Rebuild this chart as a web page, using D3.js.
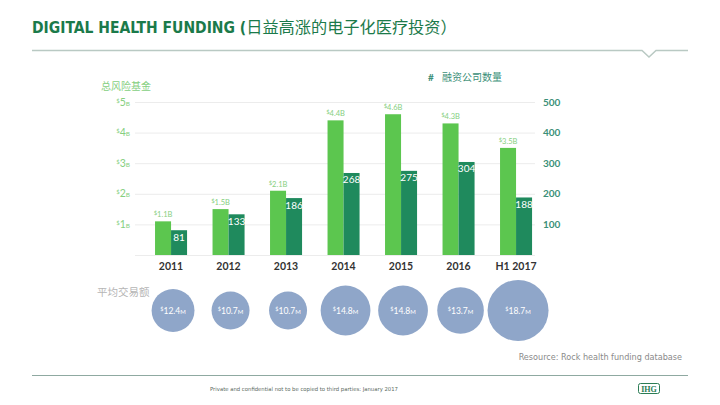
<!DOCTYPE html>
<html><head><meta charset="utf-8">
<script src="https://cdn.jsdelivr.net/npm/d3@7"></script>
<style>body{margin:0;background:#fff}svg{display:block}</style>
</head><body>
<script>
const years = ["2011","2012","2013","2014","2015","2016","H1 2017"];
const funding = [1.1, 1.5, 2.1, 4.4, 4.6, 4.3, 3.5];          // $B
const fundingLabels = ["1.1","1.5","2.1","4.4","4.6","4.3","3.5"];
const companies = [81, 133, 186, 268, 275, 304, 188];
const avgDeal = [12.4, 10.7, 10.7, 14.8, 14.8, 13.7, 18.7];    // $M
const leftTicks = [1, 2, 3, 4, 5];
const rightTicks = [100, 200, 300, 400, 500];

const W = 720, H = 405;
const svg = d3.select("body").append("svg").attr("width", W).attr("height", H);

const cLight = "#5cc64f", cDark = "#1f8a5d", cLightTxt = "#86cf7f", cTeal = "#3b8f78";
const cjk = "'Noto Sans CJK SC', sans-serif";
const cond = "'DejaVu Sans Condensed', 'DejaVu Sans', sans-serif";

// Title
const title = svg.append("text").attr("x", 32).attr("y", 33).attr("fill", "#1b7a4a");
title.append("tspan").attr("font-family", cond).attr("font-weight", "bold").attr("font-size", 15.5).text("DIGITAL HEALTH FUNDING (");
title.append("tspan").attr("font-family", cjk).attr("font-size", 16.2).text("日益高涨的电子化医疗投资）");

// Top rule with notch
svg.append("path").attr("d", "M32,50.5 L642,50.5 L649,57 L656,50.5 L688,50.5")
  .attr("fill", "none").attr("stroke", "#b9c9c3").attr("stroke-width", 1.5);

// Scales
const x0 = d3.scaleBand().domain(years).range([142.3, 544.8]).paddingInner(0.443).paddingOuter(0.2215);
const x1 = d3.scaleBand().domain(["f", "c"]).range([0, x0.bandwidth()]);
const yL = d3.scaleLinear().domain([0, 5]).range([255, 102]);
const yR = d3.scaleLinear().domain([0, 500]).range([255, 102]);
const rS = d3.scaleLinear().domain([10.7, 18.7]).range([19, 30.5]);

// Gridlines
svg.append("g").selectAll("line").data([0].concat(leftTicks)).join("line")
  .attr("x1", 135).attr("x2", 535).attr("y1", d => yL(d) + 0.5).attr("y2", d => yL(d) + 0.5)
  .attr("stroke", "#ececec").attr("stroke-width", 1);

// Left axis labels ($xB)
const lt = svg.append("g").selectAll("text").data(leftTicks).join("text")
  .attr("x", 130).attr("y", d => yL(d) + 3.5).attr("text-anchor", "end")
  .attr("fill", cLightTxt).attr("font-family", "Lato, sans-serif");
lt.append("tspan").attr("font-size", 6).attr("dy", -3).text("$");
lt.append("tspan").attr("font-size", 10.5).attr("dy", 3).text(d => d);
lt.append("tspan").attr("font-size", 6.5).text("B");

// Right axis labels
svg.append("g").selectAll("text").data(rightTicks).join("text")
  .attr("x", 543).attr("y", d => yR(d) + 3.5)
  .attr("fill", cTeal).attr("font-family", "Lato, sans-serif").attr("font-weight", "bold")
  .attr("font-size", 10).text(d => d);

// Axis titles
svg.append("text").attr("x", 101).attr("y", 90).attr("fill", cLightTxt)
  .attr("font-family", cjk).attr("font-size", 10).text("总风险基金");
const rt = svg.append("text").attr("x", 428).attr("y", 81).attr("fill", cTeal).attr("font-size", 10);
rt.append("tspan").attr("font-family", "Lato, sans-serif").attr("font-weight", "bold").text("#");
rt.append("tspan").attr("x", 442).attr("font-family", cjk).text("融资公司数量");

// Bars
const g = svg.append("g").selectAll("g").data(years).join("g")
  .attr("transform", d => `translate(${x0(d)},0)`);
g.append("rect").attr("x", x1("f")).attr("width", x1.bandwidth())
  .attr("y", (d, i) => yL(funding[i])).attr("height", (d, i) => yL(0) - yL(funding[i])).attr("fill", cLight);
g.append("rect").attr("x", x1("c")).attr("width", x1.bandwidth())
  .attr("y", (d, i) => yR(companies[i])).attr("height", (d, i) => yR(0) - yR(companies[i])).attr("fill", cDark);

// Funding value labels
const fl = g.append("text").attr("x", x1("f") + x1.bandwidth() / 2).attr("y", (d, i) => yL(funding[i]) - 4)
  .attr("text-anchor", "middle").attr("fill", cLightTxt).attr("font-family", "Lato, sans-serif");
fl.append("tspan").attr("font-size", 6).attr("dy", -2).text("$");
fl.append("tspan").attr("font-size", 7.5).attr("dy", 2).text((d, i) => fundingLabels[i] + "B");

// Company count labels
g.append("text").attr("x", x1("c") + x1.bandwidth() / 2).attr("y", (d, i) => yR(companies[i]) + 10.5)
  .attr("text-anchor", "middle").attr("fill", "#fff").attr("font-family", "Lato, sans-serif")
  .attr("font-size", 10).text((d, i) => companies[i]);

// Year labels
g.append("text").attr("x", x0.bandwidth() / 2).attr("y", 270).attr("text-anchor", "middle")
  .attr("fill", "#333").attr("font-family", "Lato, sans-serif").attr("font-weight", "bold")
  .attr("font-size", 10.5).text(d => d);

// Average deal bubbles
svg.append("text").attr("x", 97).attr("y", 296).attr("fill", "#b5b5b5")
  .attr("font-family", cjk).attr("font-size", 10.5).text("平均交易额");
const b = svg.append("g").selectAll("g").data(years).join("g")
  .attr("transform", d => `translate(${x0(d) + x0.bandwidth() / 2 + 2},310.5)`);
b.append("circle").attr("r", (d, i) => rS(avgDeal[i])).attr("fill", "#8fa6c9");
const bt = b.append("text").attr("y", 3).attr("text-anchor", "middle").attr("fill", "#fff")
  .attr("font-family", "Lato, sans-serif");
bt.append("tspan").attr("font-size", 5.5).attr("dy", -3).text("$");
bt.append("tspan").attr("font-size", 8.5).attr("dy", 3).text((d, i) => avgDeal[i].toFixed(1));
bt.append("tspan").attr("font-size", 6).text("M");

// Source
svg.append("text").attr("x", 682).attr("y", 360).attr("text-anchor", "end").attr("fill", "#8a8a8a")
  .attr("font-family", cond).attr("font-size", 9).text("Resource: Rock health funding database");

// Bottom rule
svg.append("line").attr("x1", 32).attr("x2", 688).attr("y1", 375.5).attr("y2", 375.5)
  .attr("stroke", "#8fa9a1").attr("stroke-width", 1);

// Footer
svg.append("text").attr("x", 210).attr("y", 391).attr("fill", "#5a6a5f")
  .attr("font-family", cond).attr("font-size", 5.5).attr("textLength", 188).attr("lengthAdjust", "spacingAndGlyphs")
  .text("Private and confidential not to be copied to third parties: January 2017");

// Logo
svg.append("rect").attr("x", 638.5).attr("y", 383.5).attr("width", 21).attr("height", 10).attr("rx", 2)
  .attr("fill", "#fff").attr("stroke", "#2b7d55").attr("stroke-width", 1);
svg.append("text").attr("x", 649).attr("y", 391.5).attr("text-anchor", "middle").attr("fill", "#2b7d55")
  .attr("font-family", "'Liberation Serif', serif").attr("font-weight", "bold").attr("font-size", 8).text("IHG");
</script>
</body></html>
